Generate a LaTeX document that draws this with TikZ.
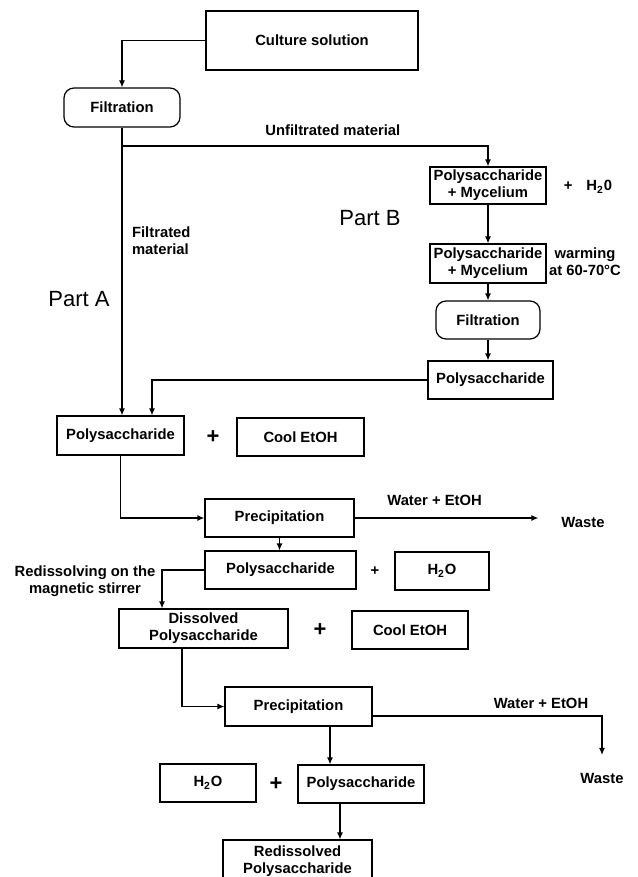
\documentclass[tikz,border=0pt]{standalone}
\usepackage{fontspec}
\setmainfont{Liberation Sans}
\usetikzlibrary{arrows.meta}

\begin{document}
\begin{tikzpicture}[x=0.5pt,y=-0.5pt,
  font=\fontsize{7.4pt}{8.6pt}\selectfont\bfseries,
  box/.style={draw,line width=0.6pt,align=center,inner sep=1pt},
  rbox/.style={box,rounded corners=5pt},
  plus/.style={font=\fontsize{11pt}{11pt}\selectfont\bfseries},
  part/.style={font=\fontsize{11pt}{13pt}\selectfont},
  arr/.style={line width=0.6pt,-{Latex[length=3.5pt,width=3pt]}},
  line/.style={line width=0.6pt}]
  \useasboundingbox (0,0) rectangle (637,877);

  % top
  \node[box,minimum width=106pt,minimum height=29.5pt] (cult) at (312,40.5) {Culture solution};
  \node[rbox,minimum width=58pt,minimum height=19.5pt] (filtA) at (122,107.5) {Filtration};
  \coordinate (split) at (122,146);

  % part B
  \node[box,minimum width=58pt,minimum height=18.5pt] (pm1) at (488,185.5) {Polysaccharide\\+ Mycelium};
  \node[box,minimum width=58pt,minimum height=19.5pt] (pm2) at (488,263.5) {Polysaccharide\\+ Mycelium};
  \node[rbox,minimum width=52pt,minimum height=19pt] (filtB) at (488,320) {Filtration};
  \node[box,minimum width=62.5pt,minimum height=19pt] (polyB) at (490.5,380) {Polysaccharide};
  \node (water) at (588,187) {+\hspace{7pt}H\textsubscript{2}0};
  \node[align=center] (warm) at (585,262) {warming\\at 60-70°C};

  % labels
  \node[anchor=west,align=left] (filtmat) at (125,241) {Filtrated\\material};
  \node[part] (partA) at (79,299) {Part A};
  \node[part] (partB) at (370,218) {Part B};

  % part A
  \node[box,minimum width=63.5pt,minimum height=19.5pt] (polyA) at (120.5,435.5) {Polysaccharide};
  \node[plus] (plus1) at (213,437) {+};
  \node[box,minimum width=63.5pt,minimum height=19pt] (coolA) at (300.5,437) {Cool EtOH};
  \node[box,minimum width=74.5pt,minimum height=19pt] (prec1) at (279.5,518) {Precipitation};
  \node (waste1) at (583,522) {Waste};
  \node[box,minimum width=75.5pt,minimum height=19pt] (polyC) at (280.5,570) {Polysaccharide};
  \node (plus2) at (375,571) {+};
  \node[box,minimum width=47pt,minimum height=19pt] (h2oA) at (442,571) {H\textsubscript{2}O};
  \node[align=center] (stir) at (85,581) {Redissolving on the\\magnetic stirrer};
  \node[box,minimum width=84.5pt,minimum height=19.5pt] (diss) at (203.5,628.5) {Dissolved\\Polysaccharide};
  \node[plus] (plus3) at (320,630) {+};
  \node[box,minimum width=58pt,minimum height=19pt] (coolB) at (410,630) {Cool EtOH};
  \node[box,minimum width=73.5pt,minimum height=19.5pt] (prec2) at (298.5,706.5) {Precipitation};
  \node (waste2) at (602,778) {Waste};
  \node[box,minimum width=48pt,minimum height=19pt] (h2oB) at (208,783) {H\textsubscript{2}O};
  \node[plus] (plus4) at (276,784) {+};
  \node[box,minimum width=63pt,minimum height=19pt] (polyD) at (361,784) {Polysaccharide};
  \node[box,minimum width=74.5pt,minimum height=21pt] (redis) at (297.5,861) {Redissolved\\Polysaccharide};

  % connectors
  \draw[arr] (cult.west) -| (filtA.north);
  \draw[arr] (filtA.south) -- (filtA.south |- polyA.north);
  \draw[arr] (split) -| node[pos=0.288,above=1.3pt] {Unfiltrated material} (pm1.north);
  \draw[arr] (pm1.south) -- (pm2.north);
  \draw[arr] (pm2.south) -- (filtB.north);
  \draw[arr] (filtB.south) -- (filtB.south |- polyB.north);
  \draw[arr] (polyB.west) -| ([xshift=15.75pt]polyA.north);
  \draw[arr] (polyA.south) |- (prec1.west);
  \draw[arr] (prec1.east) -- ([xshift=-8pt]waste1.west |- prec1.east) node[pos=0.435,above=2.3pt] {Water + EtOH};
  \draw[arr] (prec1.south) -- (prec1.south |- polyC.north);
  \draw[arr] (polyC.west) -| ([xshift=-20.75pt]diss.north);
  \draw[arr] ([xshift=-10.75pt]diss.south) |- (prec2.west);
  \draw[arr] ([yshift=-4.75pt]prec2.east) -| node[pos=0.367,above=-0.2pt] {Water + EtOH} ([yshift=5.4pt]waste2.north);
  \draw[arr] ([xshift=15.75pt]prec2.south) -- ([xshift=15.75pt]prec2.south |- polyD.north);
  \draw[arr] ([xshift=-10.5pt]polyD.south) -- ([xshift=-10.5pt]polyD.south |- redis.north);
\end{tikzpicture}
\end{document}
